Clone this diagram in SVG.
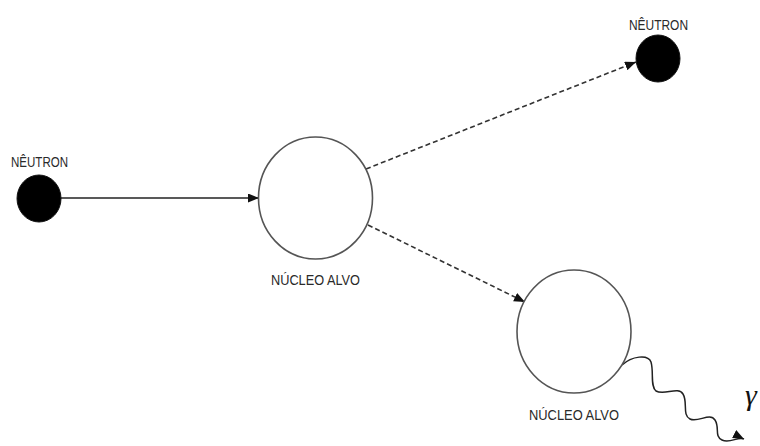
<svg xmlns="http://www.w3.org/2000/svg" width="760" height="446" viewBox="0 0 760 446">
<style>
.nuc{fill:#fff;stroke:#555;stroke-width:1.6}
.neu{fill:#000;stroke:#111;stroke-width:1}
.lbl{font-family:"Liberation Sans",Arial,sans-serif;font-size:14.5px;fill:#2a2a2a}
.sol{stroke:#222;stroke-width:1.5;fill:none}
.dash{stroke:#333;stroke-width:1.6;stroke-dasharray:5,3;fill:none}
.wave{stroke:#222;stroke-width:1.5;fill:none}
</style>
<defs>
<marker id="ah" markerUnits="userSpaceOnUse" markerWidth="12" markerHeight="10" refX="11" refY="4.5" orient="auto">
<path d="M0,0 L11,4.5 L0,9 z" fill="#111"/>
</marker>
</defs>
<rect width="760" height="446" fill="#fff"/>
<g id="connectors">
<line class="sol" x1="61" y1="198" x2="259" y2="198" marker-end="url(#ah)"/>
<line class="dash" x1="366" y1="169" x2="636" y2="62" marker-end="url(#ah)"/>
<line class="dash" x1="368" y1="225" x2="525" y2="302" marker-end="url(#ah)"/>
<path class="wave" d="M622,365 C632,356 648,354 651,362 C654,372 650,386 656,391 C664,396 678,386 683,394 C688,402 682,415 690,419 C698,423 710,412 715,420 C720,428 714,436 722,440 C730,444 738,436 744,439" marker-end="url(#ah)"/>
</g>
<g id="neutron1">
<ellipse class="neu" cx="39" cy="198.5" rx="22" ry="23.5"/>
<text class="lbl" x="11" y="167" textLength="57" lengthAdjust="spacingAndGlyphs">NÊUTRON</text>
</g>
<g id="nucleus1">
<ellipse class="nuc" cx="315.5" cy="198" rx="57" ry="61"/>
<text class="lbl" x="271" y="285" textLength="89" lengthAdjust="spacingAndGlyphs">NÚCLEO ALVO</text>
</g>
<g id="neutron2">
<ellipse class="neu" cx="658" cy="58.5" rx="22" ry="23.5"/>
<text class="lbl" x="629" y="30" textLength="59" lengthAdjust="spacingAndGlyphs">NÊUTRON</text>
</g>
<g id="nucleus2">
<ellipse class="nuc" cx="574" cy="331.5" rx="57" ry="61.5"/>
<text class="lbl" x="529" y="420" textLength="90" lengthAdjust="spacingAndGlyphs">NÚCLEO ALVO</text>
</g>
<g id="gamma">
<text x="745" y="405" style="font-family:'Liberation Serif','DejaVu Serif',serif;font-size:30px;font-style:italic;fill:#111">γ</text>
</g>
</svg>
